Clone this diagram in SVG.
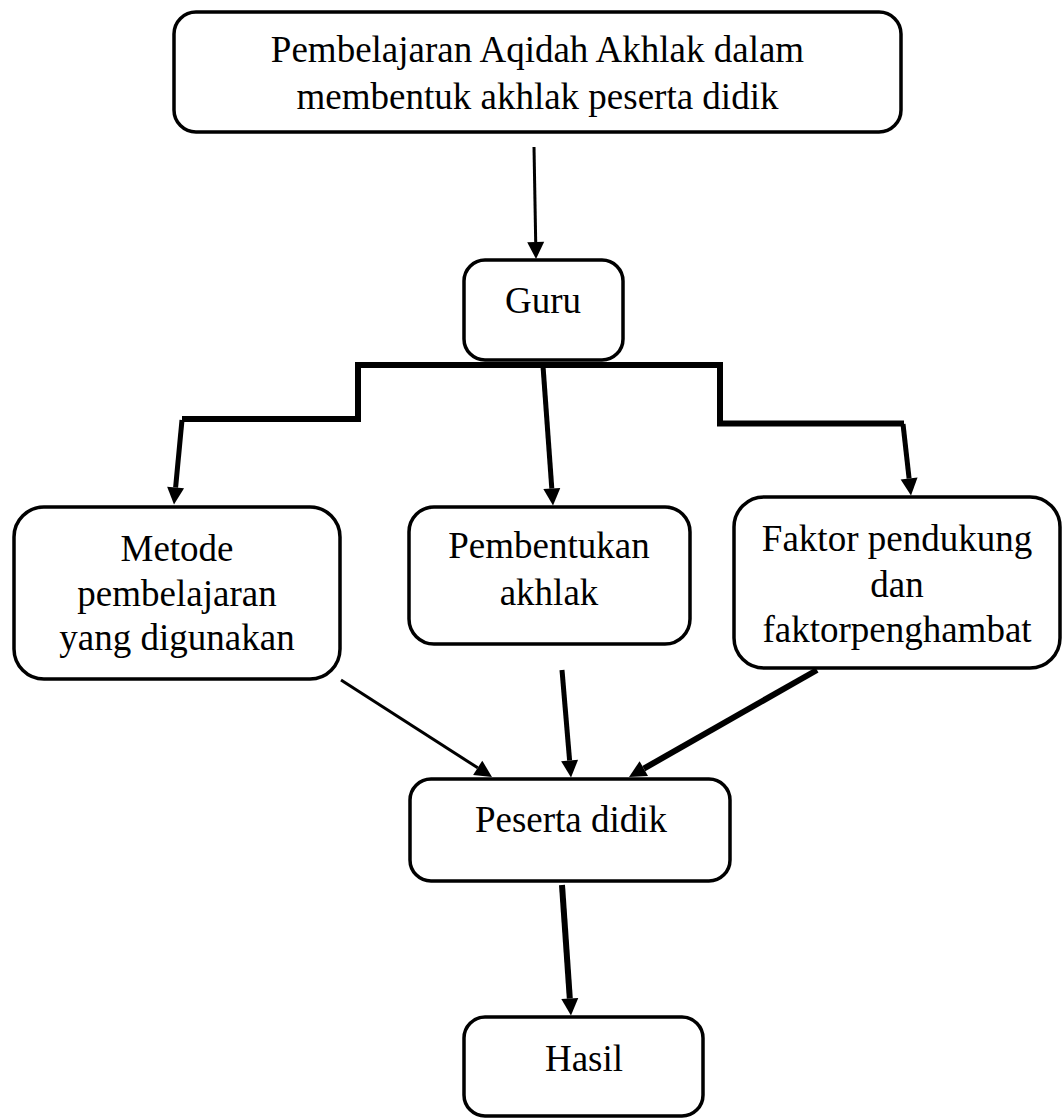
<svg xmlns="http://www.w3.org/2000/svg" width="1063" height="1120" viewBox="0 0 1063 1120">
<style>
.box{fill:#fff;stroke:#000;stroke-width:3.5}
.t{font-family:"Liberation Serif","Times New Roman",serif;font-size:37px;fill:#000;text-anchor:middle}
.c{fill:none;stroke:#000;stroke-linecap:butt}
</style>
<defs>
<marker id="ah" markerUnits="userSpaceOnUse" markerWidth="17" markerHeight="17" refX="0" refY="8.5" orient="auto" overflow="visible">
<path d="M0,0 L17,8.5 L0,17 Z" fill="#000"/>
</marker>
</defs>
<rect width="1063" height="1120" fill="#fff"/>
<g id="connectors">
<line class="c" x1="534" y1="147" x2="535.7" y2="242" stroke-width="3" marker-end="url(#ah)"/>
<polyline class="c" points="182,419 358,419 358,365 720,365 720,423.5 904,423.5" stroke-width="6" stroke-linejoin="miter"/>
<line class="c" x1="182" y1="420" x2="175.6" y2="487.5" stroke-width="5" marker-end="url(#ah)"/>
<line class="c" x1="543" y1="366" x2="551.8" y2="488.5" stroke-width="5" marker-end="url(#ah)"/>
<line class="c" x1="903" y1="424" x2="909.1" y2="478.5" stroke-width="5" marker-end="url(#ah)"/>
<line class="c" x1="341" y1="680" x2="477.7" y2="767.8" stroke-width="3" marker-end="url(#ah)"/>
<line class="c" x1="562" y1="670" x2="569.6" y2="760.5" stroke-width="5" marker-end="url(#ah)"/>
<line class="c" x1="817" y1="670" x2="643.8" y2="768.6" stroke-width="6" marker-end="url(#ah)"/>
<line class="c" x1="562" y1="885" x2="569.8" y2="998.5" stroke-width="6" marker-end="url(#ah)"/>
</g>
<g id="node-top">
<rect class="box" x="174" y="12" width="727" height="120" rx="22"/>
<text class="t" x="537.5" y="62">Pembelajaran Aqidah Akhlak dalam</text>
<text class="t" x="537.5" y="109">membentuk akhlak peserta didik</text>
</g>
<g id="node-guru">
<rect class="box" x="464" y="260" width="159" height="100" rx="21"/>
<text class="t" x="543" y="313">Guru</text>
</g>
<g id="node-metode">
<rect class="box" x="14" y="507" width="326" height="172" rx="30"/>
<text class="t" x="177" y="561">Metode</text>
<text class="t" x="177" y="606">pembelajaran</text>
<text class="t" x="177" y="650">yang digunakan</text>
</g>
<g id="node-pembentukan">
<rect class="box" x="409" y="507" width="281" height="137" rx="25"/>
<text class="t" x="549" y="558">Pembentukan</text>
<text class="t" x="549" y="605">akhlak</text>
</g>
<g id="node-faktor">
<rect class="box" x="734" y="497" width="326" height="171" rx="30"/>
<text class="t" x="897" y="551">Faktor pendukung</text>
<text class="t" x="897" y="597">dan</text>
<text class="t" x="897" y="642">faktorpenghambat</text>
</g>
<g id="node-peserta">
<rect class="box" x="410" y="779" width="320" height="102" rx="21"/>
<text class="t" x="571" y="832">Peserta didik</text>
</g>
<g id="node-hasil">
<rect class="box" x="464" y="1017" width="239" height="99" rx="21"/>
<text class="t" x="584" y="1071">Hasil</text>
</g>
</svg>
